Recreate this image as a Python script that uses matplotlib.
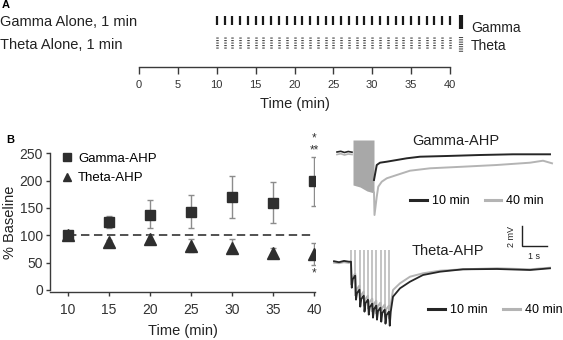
import matplotlib
matplotlib.use("Agg")
import matplotlib.pyplot as plt
from matplotlib.lines import Line2D

plt.rcParams['font.family'] = ['Liberation Sans', 'DejaVu Sans']

W, H, DPI = 563, 340, 100

# ---------------- panel A: stimulation schedule ----------------
stim_minutes = list(range(10, 41))          # one 1-min epoch each minute
time_ticks_a = [0, 5, 10, 15, 20, 25, 30, 35, 40]

# ---------------- panel B: AHP amplitude (% baseline) ----------------
times = [10, 15, 20, 25, 30, 35, 40]
time_ticks_b = [10, 15, 20, 25, 30, 35, 40]
pct_ticks = [0, 50, 100, 150, 200, 250]
gamma_mean = [100, 125, 138, 143, 170, 159, 199]
gamma_err_lo = [0, 11, 25, 30, 39, 37, 45]
gamma_err_hi = [0, 11, 27, 31, 39, 39, 44]
theta_mean = [100, 88, 94, 80, 77, 68, 65]
theta_err_lo = [0, 4, 5, 11, 10, 4, 20]
theta_err_hi = [0, 4, 6, 14, 16, 9, 21]

# ---------------- example traces (s, mV) ----------------
# gamma train: baseline, superimposed spikes envelope, recovery
g_base_t = [0.0, 0.15, 0.3, 0.45, 0.6]
g_base_10 = [0.05, 0.12, 0.0, 0.1, 0.03]
g_base_40 = [-0.2, -0.12, -0.25, -0.15, -0.2]
g_train_t = [0.64, 0.92, 1.2, 1.48]
g_train_top = [1.25, 1.25, 1.25, 1.25]
g_train_bottom = [-3.25, -3.45, -3.85, -4.05]
g10_t = [1.48, 1.59, 1.72, 1.99, 2.39, 2.79, 3.32, 4.39, 5.72, 7.04, 8.52]
g10_v = [-2.75, -1.25, -1.02, -0.92, -0.75, -0.58, -0.42, -0.35, -0.25, -0.18, -0.18]
g40_t = [1.48, 1.5, 1.59, 1.65, 1.79, 1.99, 2.39, 2.92, 3.72, 5.04, 6.39, 7.72, 8.24, 8.6]
g40_v = [-4.0, -6.25, -4.42, -3.42, -2.92, -2.58, -2.25, -1.82, -1.58, -1.42, -1.25, -1.02, -0.82, -1.08]

# theta train: ten stimuli, pre-stimulus level and trough after each one
th_base_t = [0.0, 0.2, 0.4, 0.6]
th_base_10 = [0.05, -0.05, 0.08, 0.0]
th_base_40 = [-0.1, -0.15, -0.05, -0.12]
th_pulse_t = [0.68, 0.85, 1.02, 1.19, 1.36, 1.53, 1.69, 1.86, 2.03, 2.20]
th10_pre = [0.0, -1.4, -2.8, -3.4, -3.8, -4.2, -4.4, -4.6, -4.8, -5.0]
th10_trough = [-2.6, -3.8, -4.5, -5.0, -5.3, -5.6, -5.8, -6.0, -6.2, -6.4]
th40_pre = [0.0, -1.2, -2.4, -3.0, -3.4, -3.7, -3.9, -4.1, -4.3, -4.4]
th40_trough = [-2.3, -3.4, -4.0, -4.4, -4.7, -5.0, -5.2, -5.4, -5.5, -5.7]
th10_rec_t = [2.27, 2.36, 2.64, 3.04, 3.56, 4.24, 5.16, 6.52, 7.84, 8.64]
th10_rec_v = [-5.0, -3.5, -2.66, -2.0, -1.33, -1.0, -0.76, -0.73, -0.83, -0.66]
th40_rec_t = [2.27, 2.36, 2.64, 3.04, 3.56, 4.24, 5.16, 6.52, 7.84, 8.64]
th40_rec_v = [-4.3, -2.83, -2.16, -1.5, -1.16, -0.9, -0.76, -0.66, -0.76, -0.6]
stim_artifact_top = 1.2

scale_t, scale_v = 1.0, 2.0   # scale bar: 1 s, 2 mV

DARK = '#262626'
GREY = '#b4b4b4'
AX = '#3a3a3a'


def px_axes(fig, x0, y0, x1, y1, **kw):
    """Axes placed by pixel box (y measured from the top)."""
    return fig.add_axes([x0 / W, 1 - y1 / H, (x1 - x0) / W, (y1 - y0) / H], **kw)


fig = plt.figure(figsize=(W / DPI, H / DPI), dpi=DPI)
fig.patch.set_facecolor('white')

# ======================= panel A =======================
px_per_min = 7.775
a0 = 139.0
axA = px_axes(fig, 0, 0, W, 120)
axA.set_xlim(-a0 / px_per_min, (W - a0) / px_per_min)
axA.set_ylim(120, 0)
axA.axis('off')

axA.vlines(stim_minutes, 15.7, 24.8, color='#1a1a1a', lw=1.6)
axA.vlines(stim_minutes, 36.5, 48.5, color='#474747', lw=1.8,
           linestyles=[(0, (0.45, 0.55))])
leg_x = (461 - a0) / px_per_min
axA.vlines([leg_x], 15, 29, color='#1a1a1a', lw=3.0)
axA.vlines([leg_x], 37, 52, color='#474747', lw=3.0,
           linestyles=[(0, (0.25, 0.3))])
txt_x = (471 - a0) / px_per_min
axA.text(txt_x, 27.5, 'Gamma', fontsize=10, va='center', ha='left', color='#222')
axA.text(txt_x, 45.5, 'Theta', fontsize=10, va='center', ha='left', color='#222')
lab_x = (0 - a0) / px_per_min
axA.text(lab_x, 22.5, 'Gamma Alone, 1 min', fontsize=10.5, va='center', ha='left', color='#222')
axA.text(lab_x, 44.8, 'Theta Alone, 1 min', fontsize=10.5, va='center', ha='left', color='#222')
axA.text((2 - a0) / px_per_min, 5.5, 'A', fontsize=8, fontweight='bold', va='center', ha='left')

# time axis of panel A
axT = px_axes(fig, a0, 66.2, a0 + 40 * px_per_min, 66.7)
axT.set_xlim(0, 40)
axT.set_ylim(0, 1)
for s in ('left', 'right', 'top'):
    axT.spines[s].set_visible(False)
axT.spines['bottom'].set_color(AX)
axT.spines['bottom'].set_linewidth(1.0)
axT.set_yticks([])
axT.set_xticks(time_ticks_a)
axT.tick_params(axis='x', direction='out', length=4.8, width=1.0, color=AX,
                labelsize=8, pad=5, labelcolor='#333')
axT.set_xlabel('Time (min)', fontsize=10.5, labelpad=5, color='#222')
axT.patch.set_visible(False)

# ======================= panel B (summary) =======================
axB = px_axes(fig, 50, 153.3, 315, 291.6)
axB.set_xlim(7.85, 40.08)
axB.set_ylim(-3, 250)
for s in ('right', 'top'):
    axB.spines[s].set_visible(False)
for s in ('left', 'bottom'):
    axB.spines[s].set_color(AX)
    axB.spines[s].set_linewidth(1.0)
axB.spines['left'].set_bounds(0, 250)
axB.set_xticks(time_ticks_b)
axB.set_yticks(pct_ticks)
axB.tick_params(axis='both', direction='out', length=3, width=1.0, color=AX,
                labelsize=10, labelcolor='#333')
axB.tick_params(axis='x', pad=5)
axB.tick_params(axis='y', pad=2)
axB.set_xlabel('Time (min)', fontsize=10.5, labelpad=5, color='#222')
axB.set_ylabel('% Baseline', fontsize=10.5, labelpad=2, color='#222')
axB.patch.set_visible(False)

axB.plot([times[0], times[-1]], [100, 100], ls=(0, (5.5, 3)), color='#222', lw=1.1, zorder=1)
axB.errorbar(times, gamma_mean, yerr=[gamma_err_lo, gamma_err_hi], fmt='none',
             ecolor='#8c8c8c', elinewidth=1.0, capsize=2, capthick=1.0, zorder=2)
axB.errorbar(times, theta_mean, yerr=[theta_err_lo, theta_err_hi], fmt='none',
             ecolor='#8c8c8c', elinewidth=1.0, capsize=2, capthick=1.0, zorder=2)
axB.plot(times, theta_mean, ls='none', marker='^', ms=8, color='#2e2e2e',
         mec='#2e2e2e', zorder=3, label='Theta-AHP')
axB.plot(times, gamma_mean, ls='none', marker='s', ms=7.5, color='#2e2e2e',
         mec='#2e2e2e', zorder=4, label='Gamma-AHP')

hs, ls_ = axB.get_legend_handles_labels()
axB.legend(hs[::-1], ls_[::-1], loc='upper left', frameon=False, fontsize=9.5,
           bbox_to_anchor=(61.5 / W, 1 - 152.5 / H), bbox_transform=fig.transFigure,
           borderpad=0, borderaxespad=0, handlelength=0.8, handletextpad=0.45,
           labelspacing=0.55, markerscale=0.8)

# significance marks at 40 min
axB.text(40, 256, '**', ha='center', va='center', fontsize=8.5, color='#333', clip_on=False)
axB.text(40, 277, '*', ha='center', va='center', fontsize=8.5, color='#333', clip_on=False)
axB.text(40, 31, '*', ha='center', va='center', fontsize=8.5, color='#333', clip_on=False)

fig.text(6 / W, 1 - 140 / H, 'B', fontsize=8, fontweight='bold', va='center', ha='left')

# ======================= panel B traces =======================
px_s, px_mv = 25.0, 10.0
# gamma trace axes (t=0 at x=337 px, 0 mV at y=152.5 px)
g_x0, g_y0 = 337.0, 152.5
axG = px_axes(fig, 330, 125, W, 225)
axG.set_xlim((330 - g_x0) / px_s, (W - g_x0) / px_s)
axG.set_ylim((g_y0 - 225) / px_mv, (g_y0 - 125) / px_mv)
axG.axis('off')
axG.fill_between(g_train_t, g_train_bottom, g_train_top, color='#a8a8a8', lw=0)
axG.plot(g_base_t, g_base_40, color=GREY, lw=1.2)
axG.plot(g_base_t, g_base_10, color=DARK, lw=1.2)
axG.plot(g40_t, g40_v, color=GREY, lw=1.4)
axG.plot(g10_t, g10_v, color=DARK, lw=1.4)
axG.text((456 - g_x0) / px_s, (g_y0 - 141) / px_mv, 'Gamma-AHP', fontsize=10.5,
         ha='center', va='center', color='#222')
leg_handles = [Line2D([], [], color=DARK, lw=2.2), Line2D([], [], color=GREY, lw=2.2)]
axG.legend(leg_handles, ['10 min', '40 min'], ncol=2, loc='center left', frameon=False,
           fontsize=9, bbox_to_anchor=(410 / W, 1 - 201 / H), bbox_transform=fig.transFigure,
           borderpad=0, borderaxespad=0, handlelength=1.35, handletextpad=0.4,
           columnspacing=1.2)

# theta trace axes (t=0 at x=334 px, 0 mV at y=261.7 px)
t_x0, t_y0 = 334.0, 261.7
axH = px_axes(fig, 330, 215, W, 340)
axH.set_xlim((330 - t_x0) / px_s, (W - t_x0) / px_s)
axH.set_ylim((t_y0 - 340) / px_mv, (t_y0 - 215) / px_mv)
axH.axis('off')


def sawtooth(pulses, pre, trough, lag):
    """Each stimulus: fast drop to the trough, quick partial rebound, slow drift."""
    ts, vs = [], []
    for k, tp in enumerate(pulses):
        ts += [tp, tp + lag]
        vs += [pre[k], trough[k]]
        if k + 1 < len(pulses):
            ts += [tp + lag + 0.04, pulses[k + 1] - 0.005]
            vs += [pre[k + 1] - 0.35, pre[k + 1]]
    return ts, vs


s40_t, s40_v = sawtooth(th_pulse_t, th40_pre, th40_trough, 0.02)
s10_t, s10_v = sawtooth(th_pulse_t, th10_pre, th10_trough, 0.03)
axH.plot(th_base_t + s40_t + th40_rec_t, th_base_40 + s40_v + th40_rec_v, color=GREY, lw=1.4)
axH.vlines(th_pulse_t, th40_trough, stim_artifact_top, color=GREY, lw=1.1)
axH.plot(th_base_t + s10_t + th10_rec_t, th_base_10 + s10_v + th10_rec_v, color=DARK, lw=1.3)
axH.text((448 - t_x0) / px_s, (t_y0 - 251) / px_mv, 'Theta-AHP', fontsize=10.5,
         ha='center', va='center', color='#222')
axH.legend(leg_handles, ['10 min', '40 min'], ncol=2, loc='center left', frameon=False,
           fontsize=9, bbox_to_anchor=(428 / W, 1 - 310 / H), bbox_transform=fig.transFigure,
           borderpad=0, borderaxespad=0, handlelength=1.35, handletextpad=0.4,
           columnspacing=1.25)

# scale bar
sb_t = (521.7 - t_x0) / px_s
sb_v = (t_y0 - 246.3) / px_mv
axH.plot([sb_t, sb_t, sb_t + scale_t], [sb_v + scale_v, sb_v, sb_v], color='#222', lw=1.0,
         solid_joinstyle='miter')
axH.text(sb_t - 0.4, sb_v + scale_v / 2, '2 mV', rotation=90, fontsize=6.5,
         ha='center', va='center', color='#222')
axH.text(sb_t + scale_t / 2, sb_v - 1.05, '1 s', fontsize=6.5, ha='center', va='center',
         color='#222')

fig.savefig('out.png', dpi=DPI, facecolor='white')
